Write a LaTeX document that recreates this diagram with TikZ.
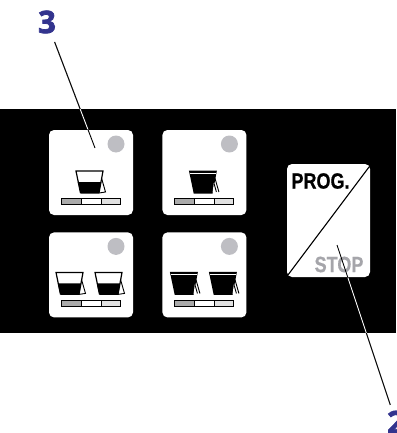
\documentclass[tikz,border=0pt]{standalone}
\usepackage{fontspec}
\setmainfont{Liberation Sans}[BoldFeatures={FakeBold=.8}]
\newfontfamily\numfont{Open Sans}[BoldFeatures={FakeBold=2.4}]
\usetikzlibrary{positioning,calc}
\definecolor{nrblue}{RGB}{51,52,142}
\definecolor{ledgray}{RGB}{190,190,195}
\definecolor{stopgray}{RGB}{165,165,170}
\definecolor{barmid}{RGB}{170,170,170}
\definecolor{barlight}{RGB}{225,225,225}
\tikzstyle{panel} = [rectangle, minimum width=396pt, minimum height=224pt, fill=black, inner sep=0pt]
\tikzstyle{keycap} = [rectangle, rounded corners=5pt, minimum width=84pt, minimum height=85pt, fill=white, inner sep=0pt]
\tikzstyle{progcap} = [keycap, minimum width=83pt, minimum height=113pt]
\tikzstyle{led} = [circle, minimum size=17pt, fill=ledgray, inner sep=0pt]
\tikzstyle{keytext} = [font=\fontsize{22}{24}\selectfont\bfseries, inner sep=0pt, xscale=.82]
\tikzstyle{number} = [font=\fontsize{31}{32}\selectfont\numfont\bfseries, text=nrblue, inner sep=0pt]
\tikzstyle{leader} = [line width=.9pt, color=black]
\tikzstyle{leaderw} = [leader, color=white]
\tikzstyle{barcell} = [draw=black, line width=1pt]
% level bar under the cups
\newcommand{\levelbar}[1]{
  \begin{scope}[shift={(#1)}]
    \draw[barcell, fill=barmid] (-30,26) rectangle (-10,32);
    \draw[barcell, fill=white] (-10,26) rectangle (10,32);
    \draw[barcell, fill=barlight] (10,26) rectangle (29,32);
  \end{scope}
}
% half filled cup, #1 is the rim's left end
\newcommand{\halfcup}[1]{
  \begin{scope}[shift={(#1)}]
    \fill (1.8,11) -- (4.5,22.5) -- (23,22.5) -- (25.2,11) -- cycle;
    \draw[line width=1.2pt] (4.5,22) -- (0,0) -- (27,0) -- (23,22);
    \draw[line width=.9pt] (25.5,7) -- (29.5,21) -- (23,22);
  \end{scope}
}
% full cup
\newcommand{\fullcup}[1]{
  \begin{scope}[shift={(#1)}]
    \fill (-.5,-.5) -- (27.5,-.5) -- (23.2,22.5) -- (4.3,22.5) -- cycle;
    \draw[white, line width=1.2pt] (.8,2.4) -- (26.2,2.4);
    \fill[white] (24.4,12) -- (23.2,21.5) -- (27.4,20.6) -- cycle;
    \draw[line width=.9pt] (25.5,7) -- (29.5,21) (24.8,13) -- (27,21);
  \end{scope}
}
\begin{document}
\begin{tikzpicture}[x=1pt, y=-1pt, node distance=29pt]
\useasboundingbox (0,0) rectangle (396,433);
% Numbers and leaders outside the panel
\node (num3) [number] at (47,22) {3};
\node (num2) [number] at (396,422) {2};
\coordinate (tip3) at (95,148);
\coordinate (tip2) at (337,245);
\draw[leader, shorten <=9pt] (num3) -- (tip3);
\draw[leader, shorten >=6pt] (tip2) -- (num2);

% Panel and keys
\node (board) [panel] at (198,221) {};
\draw[leaderw, shorten <=9pt] (num3) -- (tip3);
\draw[leaderw, shorten >=6pt] (tip2) -- (num2);
\begin{scope}
  \clip (-1,333) rectangle (397,434);
  \draw[leader, shorten >=6pt] (tip2) -- (num2);
\end{scope}
\begin{scope}
  \clip (-1,-1) rectangle (397,109);
  \draw[leader, shorten <=9pt] (num3) -- (tip3);
\end{scope}
\node (keyA) [keycap] at (91,172.5) {};
\node (keyB) [keycap, right=29pt of keyA] {};
\node (keyC) [keycap, below=17pt of keyA] {};
\node (keyD) [keycap, right=29pt of keyC] {};
\node (keyE) [progcap] at (328.5,220.5) {};

% Lamps
\foreach \k in {keyA,keyB,keyC,keyD}
  \node (led\k) [led] at ($(\k.center)+(25,-28.5)$) {};

% Bars and cups
\foreach \k in {keyA,keyB,keyC,keyD} {
  \levelbar{\k.center}
}
\halfcup{$(keyA.center)+(-15,-1.5)$}
\fullcup{$(keyB.center)+(-15,-1.5)$}
\halfcup{$(keyC.center)+(-35,-2.5)$}
\halfcup{$(keyC.center)+(4,-2.5)$}
\fullcup{$(keyD.center)+(-34,-2.5)$}
\fullcup{$(keyD.center)+(5,-2.5)$}

% Prog key
\draw[line width=1.1pt] ($(keyE.north east)+(-1,3)$) -- ($(keyE.south west)+(1,-2)$);
\node (prog) [keytext] at (320.5,181) {PROG.};
\node (stop) [keytext, text=stopgray] at (339,264.5) {STOP};

% Leader ends on the keys
\begin{scope}
  \clip (keyA.south west) rectangle (keyA.north east);
  \draw[leader] (num3) -- (tip3);
\end{scope}
\begin{scope}
  \clip (keyE.south west) rectangle (keyE.north east);
  \draw[leader] (tip2) -- (num2);
\end{scope}
\end{tikzpicture}
\end{document}
